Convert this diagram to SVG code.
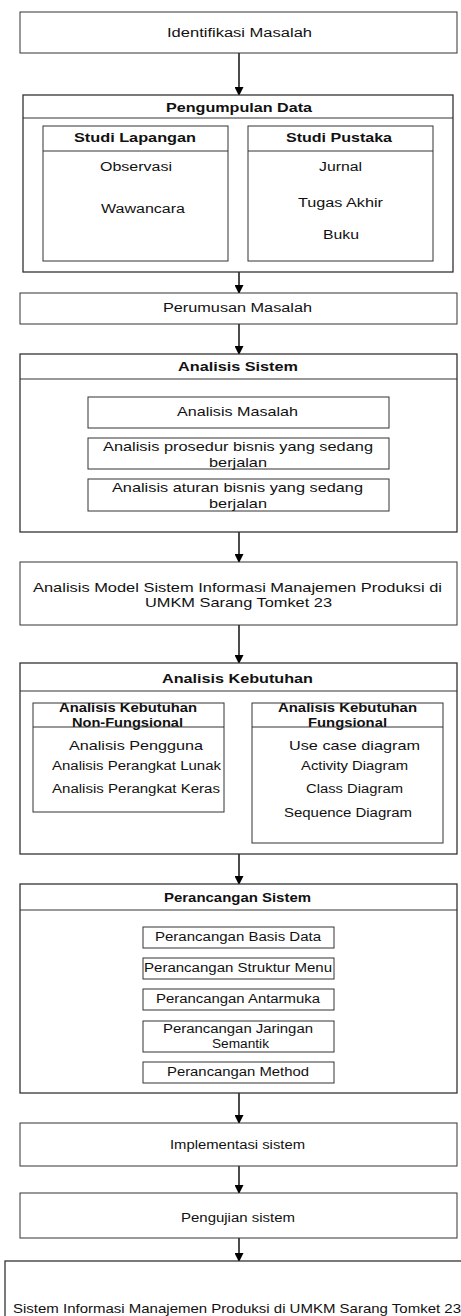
<svg xmlns="http://www.w3.org/2000/svg" width="461" height="1316" viewBox="0 0 461 1316">
<style>
rect{fill:#fff;stroke:#333;stroke-width:1}
.o{stroke-width:1.3}
.hl{stroke:#333;stroke-width:1}
text{font-family:"Liberation Sans",Arial,sans-serif;fill:#111;font-size:12px}
.b{font-weight:bold}
.m{font-size:13.5px}
.c{stroke:#000;stroke-width:1.4;fill:none}
</style>
<defs>
<marker id="ah" markerWidth="9" markerHeight="9" refX="8" refY="4.5" orient="auto" markerUnits="userSpaceOnUse">
<path d="M0,0 L9,4.5 L0,9 Z" fill="#000"/>
</marker>
</defs>
<rect width="461" height="1316" style="stroke:none"/>
<g id="connectors">
<line class="c" x1="239" y1="53" x2="239" y2="95" marker-end="url(#ah)"/>
<line class="c" x1="239" y1="272" x2="239" y2="293" marker-end="url(#ah)"/>
<line class="c" x1="239" y1="324" x2="239" y2="354" marker-end="url(#ah)"/>
<line class="c" x1="239" y1="532" x2="239" y2="562" marker-end="url(#ah)"/>
<line class="c" x1="239" y1="625" x2="239" y2="663" marker-end="url(#ah)"/>
<line class="c" x1="239" y1="854" x2="239" y2="884" marker-end="url(#ah)"/>
<line class="c" x1="239" y1="1093" x2="239" y2="1123" marker-end="url(#ah)"/>
<line class="c" x1="239" y1="1166" x2="239" y2="1193" marker-end="url(#ah)"/>
<line class="c" x1="239" y1="1238" x2="239" y2="1261" marker-end="url(#ah)"/>
</g>
<g id="identifikasi">
<rect x="20" y="12" width="437" height="41"/>
<text x="167" y="37" textLength="145" lengthAdjust="spacingAndGlyphs">Identifikasi Masalah</text>
</g>
<g id="pengumpulan">
<rect class="o" x="23" y="95" width="430" height="177"/>
<line class="hl" x1="23" y1="118" x2="453" y2="118"/>
<text class="b" x="166" y="112" textLength="146" lengthAdjust="spacingAndGlyphs">Pengumpulan Data</text>
</g>
<g id="studi-lapangan">
<rect x="43" y="126" width="185" height="135"/>
<line class="hl" x1="43" y1="151" x2="228" y2="151"/>
<text class="b" x="74" y="142" textLength="122" lengthAdjust="spacingAndGlyphs">Studi Lapangan</text>
<text x="100" y="171" textLength="72" lengthAdjust="spacingAndGlyphs">Observasi</text>
<text x="101" y="213" textLength="84" lengthAdjust="spacingAndGlyphs">Wawancara</text>
</g>
<g id="studi-pustaka">
<rect x="248" y="126" width="185" height="135"/>
<line class="hl" x1="248" y1="151" x2="433" y2="151"/>
<text class="b" x="286" y="142" textLength="106" lengthAdjust="spacingAndGlyphs">Studi Pustaka</text>
<text x="319" y="171" textLength="43" lengthAdjust="spacingAndGlyphs">Jurnal</text>
<text x="298" y="207" textLength="85" lengthAdjust="spacingAndGlyphs">Tugas Akhir</text>
<text x="323" y="239" textLength="36" lengthAdjust="spacingAndGlyphs">Buku</text>
</g>
<g id="perumusan">
<rect x="20" y="293" width="437" height="31"/>
<text x="163" y="312" textLength="149" lengthAdjust="spacingAndGlyphs">Perumusan Masalah</text>
</g>
<g id="analisis-sistem">
<rect class="o" x="20" y="354" width="437" height="178"/>
<line class="hl" x1="20" y1="379" x2="457" y2="379"/>
<text class="b" x="178" y="371" textLength="120" lengthAdjust="spacingAndGlyphs">Analisis Sistem</text>
</g>
<g id="analisis-masalah">
<rect x="88" y="397" width="301" height="31"/>
<text class="m" x="177" y="416" textLength="121" lengthAdjust="spacingAndGlyphs">Analisis Masalah</text>
</g>
<g id="analisis-prosedur">
<rect x="88" y="438" width="301" height="31"/>
<text class="m" x="103" y="451" textLength="270" lengthAdjust="spacingAndGlyphs">Analisis prosedur bisnis yang sedang</text>
<text class="m" x="209" y="467" textLength="58" lengthAdjust="spacingAndGlyphs">berjalan</text>
</g>
<g id="analisis-aturan">
<rect x="88" y="479" width="301" height="32"/>
<text class="m" x="112" y="492" textLength="251" lengthAdjust="spacingAndGlyphs">Analisis aturan bisnis yang sedang</text>
<text class="m" x="209" y="508" textLength="58" lengthAdjust="spacingAndGlyphs">berjalan</text>
</g>
<g id="analisis-model">
<rect x="20" y="562" width="437" height="63"/>
<text class="m" x="33" y="592" textLength="409" lengthAdjust="spacingAndGlyphs">Analisis Model Sistem Informasi Manajemen Produksi di</text>
<text class="m" x="145" y="607" textLength="187" lengthAdjust="spacingAndGlyphs">UMKM Sarang Tomket 23</text>
</g>
<g id="analisis-kebutuhan">
<rect class="o" x="20" y="663" width="437" height="191"/>
<line class="hl" x1="20" y1="691" x2="457" y2="691"/>
<text class="b" x="162" y="683" textLength="151" lengthAdjust="spacingAndGlyphs">Analisis Kebutuhan</text>
</g>
<g id="non-fungsional">
<rect x="33" y="703" width="191" height="109"/>
<text class="b" x="59" y="712" textLength="138" lengthAdjust="spacingAndGlyphs">Analisis Kebutuhan</text>
<text class="b" x="72" y="727" textLength="111" lengthAdjust="spacingAndGlyphs">Non-Fungsional</text>
<line class="hl" x1="33" y1="727" x2="224" y2="727"/>
<text class="m" x="69" y="750" textLength="134" lengthAdjust="spacingAndGlyphs">Analisis Pengguna</text>
<text x="52" y="770" textLength="169" lengthAdjust="spacingAndGlyphs">Analisis Perangkat Lunak</text>
<text x="52" y="793" textLength="168" lengthAdjust="spacingAndGlyphs">Analisis Perangkat Keras</text>
</g>
<g id="fungsional">
<rect x="252" y="703" width="191" height="140"/>
<text class="b" x="278" y="712" textLength="139" lengthAdjust="spacingAndGlyphs">Analisis Kebutuhan</text>
<text class="b" x="308" y="727" textLength="79" lengthAdjust="spacingAndGlyphs">Fungsional</text>
<line class="hl" x1="252" y1="727" x2="443" y2="727"/>
<text class="m" x="289" y="750" textLength="131" lengthAdjust="spacingAndGlyphs">Use case diagram</text>
<text x="301" y="770" textLength="107" lengthAdjust="spacingAndGlyphs">Activity Diagram</text>
<text x="306" y="793" textLength="97" lengthAdjust="spacingAndGlyphs">Class Diagram</text>
<text x="284" y="817" textLength="128" lengthAdjust="spacingAndGlyphs">Sequence Diagram</text>
</g>
<g id="perancangan-sistem">
<rect class="o" x="20" y="884" width="437" height="209"/>
<line class="hl" x1="20" y1="910" x2="457" y2="910"/>
<text class="b" x="164" y="902" textLength="147" lengthAdjust="spacingAndGlyphs">Perancangan Sistem</text>
</g>
<g id="basis-data">
<rect x="143" y="927" width="191" height="21"/>
<text x="155" y="941" textLength="166" lengthAdjust="spacingAndGlyphs">Perancangan Basis Data</text>
</g>
<g id="struktur-menu">
<rect x="143" y="958" width="191" height="21"/>
<text x="144" y="972" textLength="188" lengthAdjust="spacingAndGlyphs">Perancangan Struktur Menu</text>
</g>
<g id="antarmuka">
<rect x="143" y="989" width="191" height="21"/>
<text x="156" y="1003" textLength="164" lengthAdjust="spacingAndGlyphs">Perancangan Antarmuka</text>
</g>
<g id="jaringan-semantik">
<rect x="143" y="1021" width="191" height="31"/>
<text x="163" y="1033" textLength="150" lengthAdjust="spacingAndGlyphs">Perancangan Jaringan</text>
<text x="212" y="1048" textLength="57" lengthAdjust="spacingAndGlyphs">Semantik</text>
</g>
<g id="method">
<rect x="143" y="1062" width="191" height="21"/>
<text x="167" y="1076" textLength="142" lengthAdjust="spacingAndGlyphs">Perancangan Method</text>
</g>
<g id="implementasi">
<rect x="20" y="1123" width="437" height="43"/>
<text x="170" y="1149" textLength="135" lengthAdjust="spacingAndGlyphs">Implementasi sistem</text>
</g>
<g id="pengujian">
<rect x="20" y="1193" width="437" height="45"/>
<text x="181" y="1222" textLength="114" lengthAdjust="spacingAndGlyphs">Pengujian sistem</text>
</g>
<g id="sistem-informasi">
<rect class="o" x="5" y="1261" width="470" height="70"/>
<text class="m" x="13" y="1313" textLength="448" lengthAdjust="spacingAndGlyphs">Sistem Informasi Manajemen Produksi di UMKM Sarang Tomket 23</text>
</g>
</svg>
